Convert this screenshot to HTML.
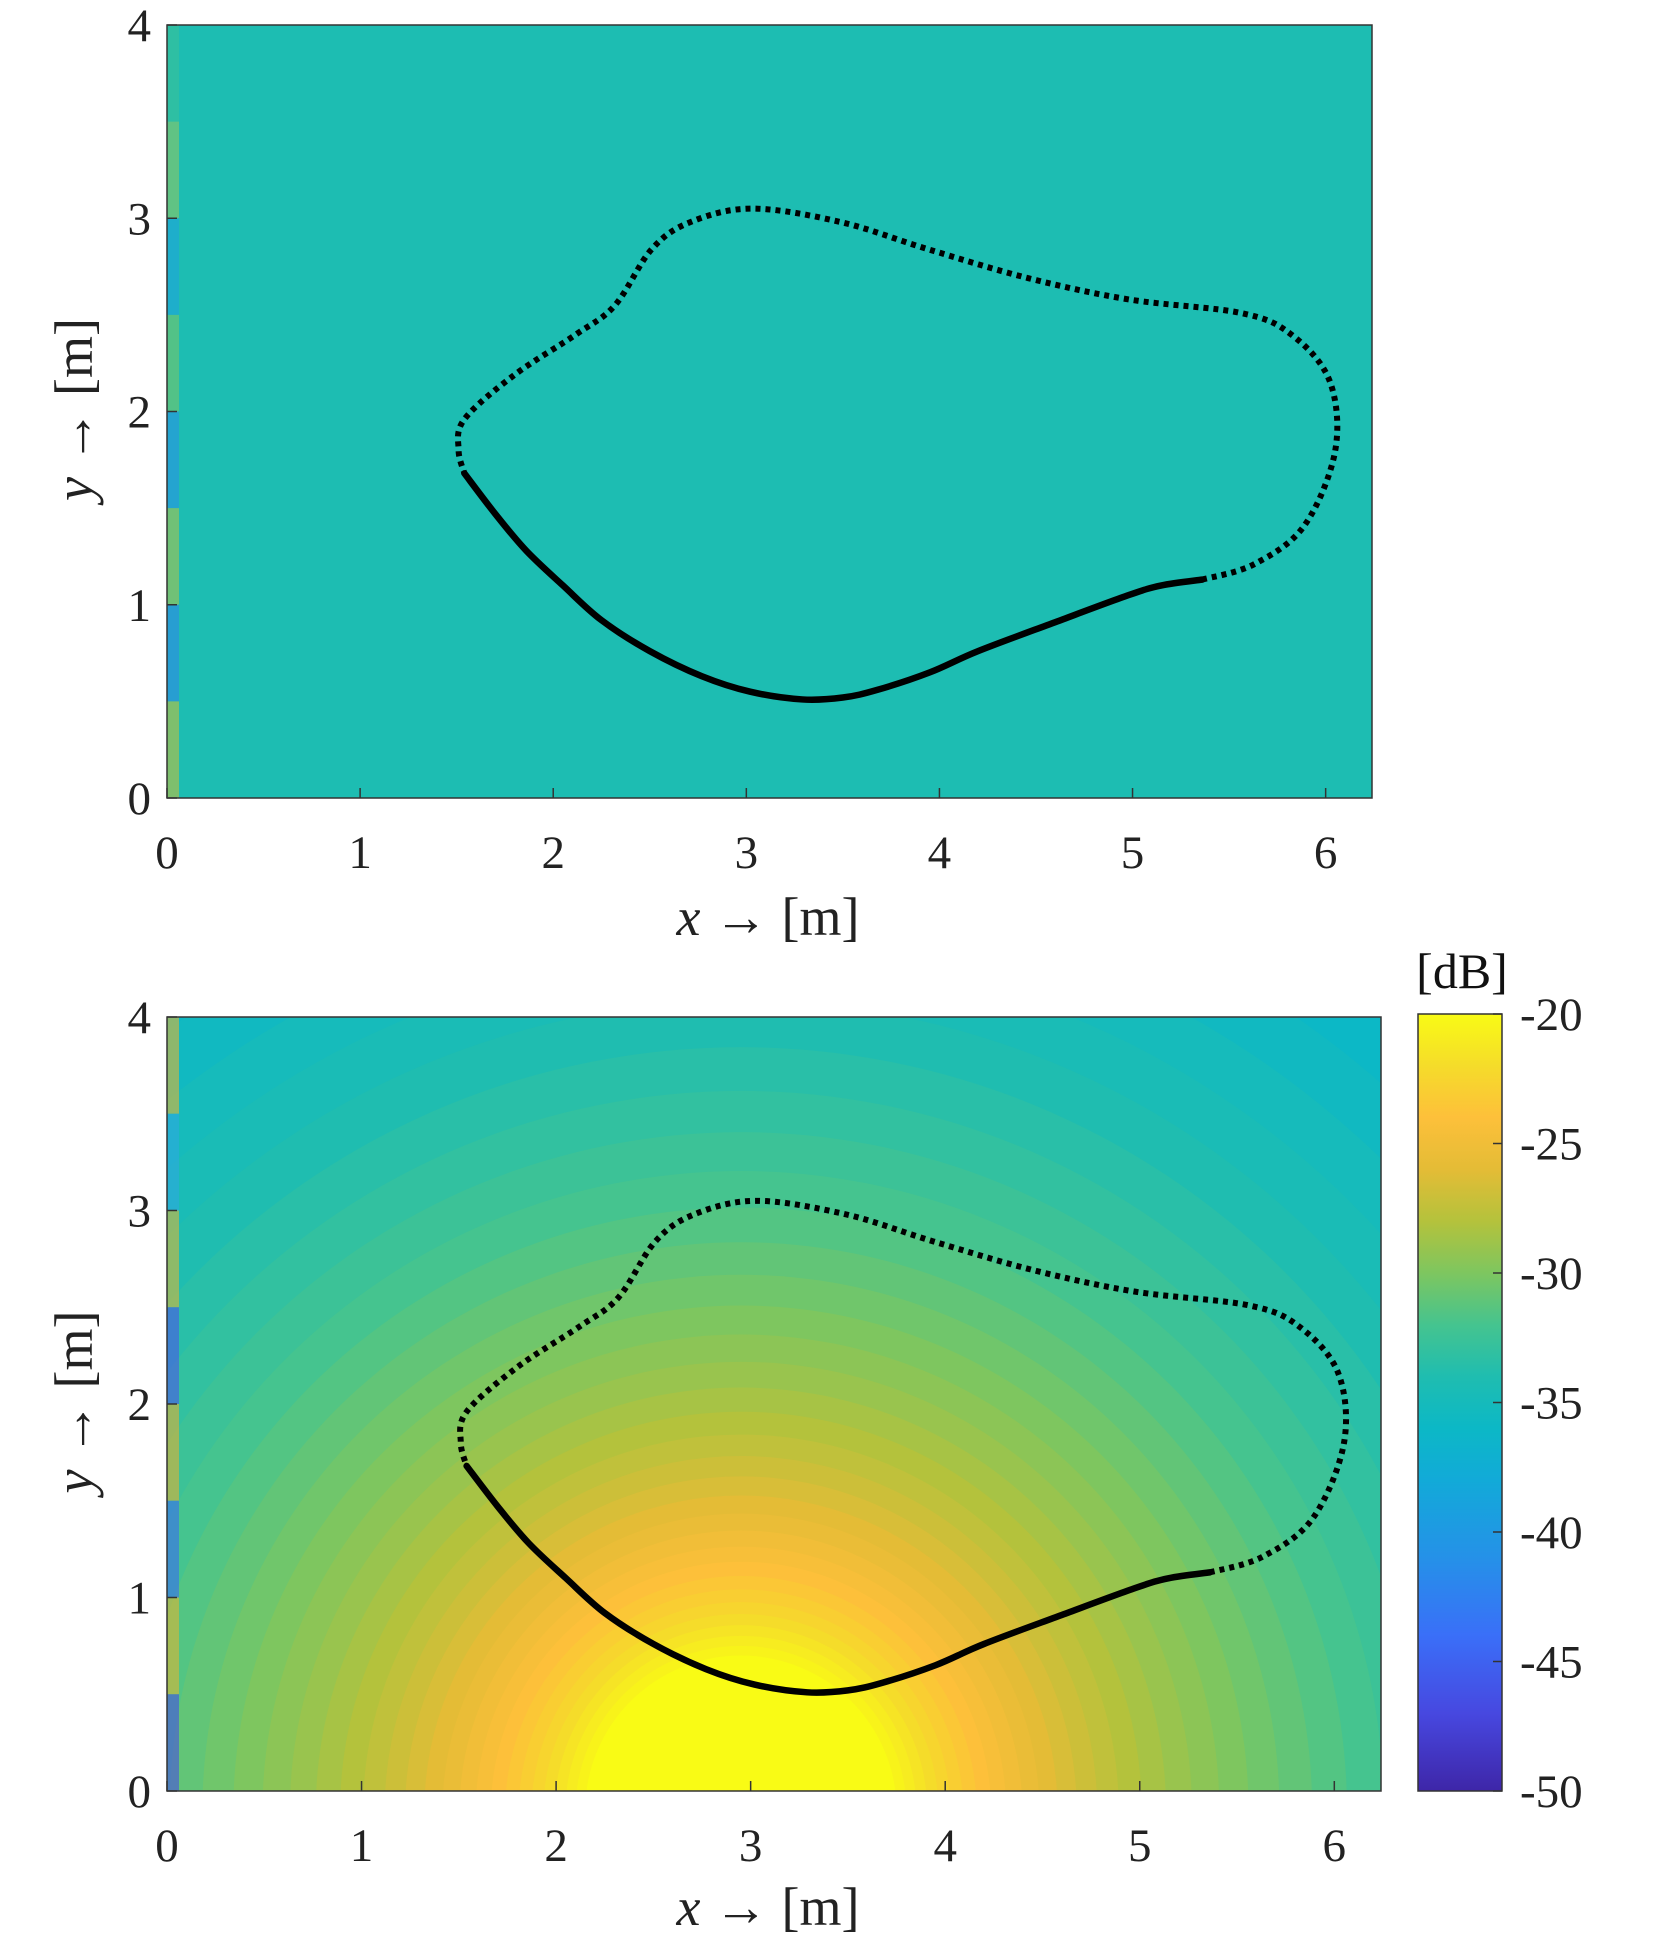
<!DOCTYPE html>
<html><head><meta charset="utf-8">
<style>
html,body{margin:0;padding:0;background:#fff;overflow:hidden;width:1667px;height:1958px;}
svg{display:block;font-family:"Liberation Serif",serif;}
</style></head>
<body>
<svg id="fig" width="1667" height="1958" viewBox="0 0 1667 1958" xmlns="http://www.w3.org/2000/svg">
<defs>
<clipPath id="clipTop"><rect x="167" y="25" width="1205" height="773"/></clipPath>
<clipPath id="clipBot"><rect x="167" y="1017" width="1214" height="774"/></clipPath>
<linearGradient id="cbGrad" x1="0" y1="1" x2="0" y2="0">
<stop offset="0" stop-color="#3e26a8"/><stop offset="0.1" stop-color="#4748e0"/>
<stop offset="0.2" stop-color="#3a6ff8"/><stop offset="0.3" stop-color="#2591e8"/>
<stop offset="0.4" stop-color="#12aad8"/><stop offset="0.467" stop-color="#0cb8c6"/>
<stop offset="0.533" stop-color="#1fbdb0"/><stop offset="0.6" stop-color="#45c48f"/>
<stop offset="0.667" stop-color="#7ec65f"/><stop offset="0.733" stop-color="#b4c23c"/>
<stop offset="0.8" stop-color="#e4bc36"/><stop offset="0.867" stop-color="#fdc03a"/>
<stop offset="0.933" stop-color="#f5dc2a"/><stop offset="1" stop-color="#f9fb15"/>
</linearGradient>
</defs>
<g id="top"></g>
<g id="bot"></g>
<g id="cb"></g>
</svg>
<script>
// Contour (m)
const solidX=[1.54,1.70,1.86,2.05,2.25,2.50,2.77,3.02,3.29,3.50,3.68,3.95,4.20,4.60,4.98,5.15,5.36];
const solidY=[1.68,1.47,1.28,1.10,0.92,0.76,0.63,0.55,0.51,0.52,0.56,0.65,0.76,0.91,1.05,1.10,1.13];
const dotX=[5.36,5.63,5.89,6.05,6.02,5.82,5.56,4.98,4.46,3.94,3.49,3.03,2.71,2.51,2.32,2.12,1.80,1.54,1.51,1.54];
const dotY=[1.13,1.21,1.41,1.80,2.16,2.40,2.51,2.58,2.69,2.84,2.98,3.05,2.98,2.84,2.55,2.40,2.19,1.96,1.80,1.68];
// Field bands (bottom panel): band dB level and its radius (m) from source
const sourcePos=[2.95,-0.1];
const ringDb=[-37.5,-37,-36.5,-36,-35.5,-35,-34.5,-34,-33.5,-33,-32.5,-32,-31.5,-31,-30.5,-30,-29.5,-29,-28.5,-28,-27.5,-27,-26.5,-26,-25.5,-25,-24.5,-24,-23.5,-23,-22.5,-22,-21.5,-21,-20.5];
const ringR=[9.0,5.962,5.621,5.298,4.995,4.708,4.438,4.184,3.944,3.718,3.505,3.304,3.115,2.936,2.768,2.609,2.459,2.318,2.185,2.060,1.942,1.831,1.726,1.627,1.534,1.446,1.363,1.285,1.211,1.142,1.076,1.015,0.957,0.902,0.850];
const topFieldDb=-34.2;
const xTicks=[0,1,2,3,4,5,6];
const yTicks=[0,1,2,3,4];
const cbTicks=[-20,-25,-30,-35,-40,-45,-50];
const cbStops=[[-50,[62,38,168]],[-47,[71,72,224]],[-44,[58,111,248]],[-41,[37,145,232]],[-38,[18,170,216]],[-36,[12,184,198]],[-34,[31,189,176]],[-32,[69,196,143]],[-30,[126,198,95]],[-28,[180,194,60]],[-26,[228,188,54]],[-24,[253,192,58]],[-22,[245,220,42]],[-20,[249,251,21]]];
function cmap(d){
  if(d<=cbStops[0][0])return 'rgb('+cbStops[0][1]+')';
  for(let i=1;i<cbStops.length;i++){if(d<=cbStops[i][0]){const a=cbStops[i-1],b=cbStops[i],t=(d-a[0])/(b[0]-a[0]);
    return 'rgb('+a[1].map((v,k)=>Math.round(v+(b[1][k]-v)*t)).join(',')+')';}}
  return 'rgb('+cbStops[cbStops.length-1][1]+')';
}
const NS='http://www.w3.org/2000/svg';
function el(p,t,a){const e=document.createElementNS(NS,t);for(const k in a)e.setAttribute(k,a[k]);p.appendChild(e);return e;}
function smooth(pts){let d='M'+pts[0][0]+' '+pts[0][1];
  for(let i=0;i<pts.length-1;i++){const p0=pts[Math.max(0,i-1)],p1=pts[i],p2=pts[i+1],p3=pts[Math.min(pts.length-1,i+2)];
    d+=' C'+(p1[0]+(p2[0]-p0[0])/6)+' '+(p1[1]+(p2[1]-p0[1])/6)+','+(p2[0]-(p3[0]-p1[0])/6)+' '+(p2[1]-(p3[1]-p1[1])/6)+','+p2[0]+' '+p2[1];}
  return d;}
function panel(g,L,T,W,H,clip,field,labelBase){
  const xs=v=>L+v*(W/6.24), ys=v=>T+H-v*(H/4);
  const bg=el(g,'g',{'clip-path':'url(#'+clip+')'});
  
  if(field){
    const sx=xs(sourcePos[0]),sy=ys(sourcePos[1]);
    ringDb.forEach((d,i)=>{const c=el(bg,'ellipse',{cx:sx,cy:sy,rx:ringR[i]*(W/6.24),ry:ringR[i]*(H/4),fill:cmap(d)});
      });
    const core=el(bg,'ellipse',{cx:sx,cy:sy,rx:0.8*(W/6.24),ry:0.8*(H/4),fill:cmap(-20)});
    
  } else {
    const r=el(bg,'rect',{x:L,y:T,width:W,height:H,fill:cmap(topFieldDb)});
    
  }
  const stripeCols=field?['#e3b535','#2fa8e0','#d8b83a','#4b57e8','#e0b036','#3b6cf0','#dcb536','#4a4fe0']:['#3bc09a','#8dc766','#1fa4dc','#76c46a','#2a92e4','#a8c350','#2f88e8','#c0c040'];
  const sh=H/stripeCols.length;
  stripeCols.forEach((c,i)=>{const s=el(bg,'rect',{x:L,y:T+i*sh,width:12,height:sh,fill:c,opacity:0.6});
    });
  const sp=solidX.map((v,i)=>[xs(v),ys(solidY[i])]);
  const dp=dotX.map((v,i)=>[xs(v),ys(dotY[i])]);
  const c1=el(g,'path',{d:smooth(dp),fill:'none',stroke:'#000','stroke-width':6,'stroke-dasharray':'5 5'});
  
  const c2=el(g,'path',{d:smooth(sp),fill:'none',stroke:'#000','stroke-width':6.5,'stroke-linecap':'round'});
  
  const fr=el(g,'rect',{x:L,y:T,width:W,height:H,fill:'none',stroke:'#333','stroke-width':1.5});
  
  xTicks.forEach(v=>{const x=xs(v);
    el(g,'line',{x1:x,y1:T+H,x2:x,y2:T+H-10,stroke:'#333','stroke-width':1.5});
    const t=el(g,'text',{x:x,y:T+H+70,'font-size':47,'text-anchor':'middle',fill:'#222'});t.textContent=v;
    });
  yTicks.forEach(v=>{const y=ys(v);
    el(g,'line',{x1:L,y1:y,x2:L+10,y2:y,stroke:'#333','stroke-width':1.5});
    const t=el(g,'text',{x:L-16,y:y+16,'font-size':47,'text-anchor':'end',fill:'#222'});t.textContent=v;
    });
  const xl=el(g,'text',{x:768,y:labelBase,'font-size':54,'text-anchor':'middle',fill:'#222'});
  xl.innerHTML='<tspan font-style="italic">x</tspan> → [m]';
  
  const cy=T+H/2-2;
  const yl=el(g,'text',{x:0,y:0,'font-size':54,'text-anchor':'middle',fill:'#222',transform:'translate(92,'+cy+') rotate(-90)'});
  yl.innerHTML='<tspan font-style="italic">y</tspan> → [m]';
  
}
panel(document.getElementById('top'),167,25,1205,773,'clipTop',false,935);
panel(document.getElementById('bot'),167,1017,1214,774,'clipBot',true,1925);
const cb=document.getElementById('cb');
const CL=1418,CT=1014,CW=84,CH=777;
const cr=el(cb,'rect',{x:CL,y:CT,width:CW,height:CH,fill:'url(#cbGrad)',stroke:'#333','stroke-width':1.5});

cbTicks.forEach(v=>{const y=CT+(-20-v)/30*CH;
  el(cb,'line',{x1:CL+CW,y1:y,x2:CL+CW-9,y2:y,stroke:'#333','stroke-width':1.5});
  const t=el(cb,'text',{x:CL+CW+18,y:y+16,'font-size':47,fill:'#222'});t.textContent=v;
  });
const u=el(cb,'text',{x:1462,y:988,'font-size':50,'text-anchor':'middle',fill:'#111'});u.textContent='[dB]';

</script>
</body></html>
